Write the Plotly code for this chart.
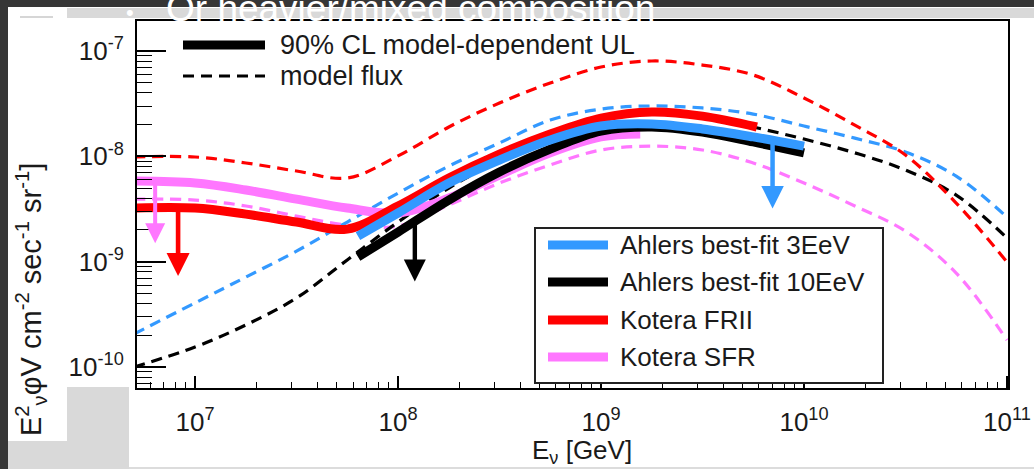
import numpy as np
import plotly.graph_objects as go

# ---------------- data ----------------
# energies (GeV) at which the model-flux curves were sampled
energy = [5.0e6, 1.0e7, 1.78e7, 3.16e7, 5.62e7, 1.0e8, 1.78e8, 3.16e8, 5.62e8,
          1.0e9, 1.78e9, 3.16e9, 5.62e9, 1.0e10, 1.78e10, 3.16e10, 5.62e10, 1.0e11]

# model fluxes (dashed), E^2 phi  [GeV cm^-2 s^-1 sr^-1]
ahlers3_model = [2.06e-10, 4.06e-10, 7.15e-10, 1.26e-9, 2.38e-9, 4.48e-9, 8.09e-9, 1.34e-8, 2.21e-8,
                 2.81e-8, 3.01e-8, 2.88e-8, 2.52e-8, 1.94e-8, 1.49e-8, 1.10e-8, 6.50e-9, 2.65e-9]
ahlers10_model = [1.00e-10, 1.55e-10, 2.51e-10, 4.52e-10, 1.04e-9, 2.38e-9, 5.00e-9, 9.23e-9, 1.56e-8,
                  2.31e-8, 2.64e-8, 2.41e-8, 1.90e-8, 1.46e-8, 1.08e-8, 7.41e-9, 4.29e-9, 1.68e-9]
kotera_frii_model = [9.86e-9, 9.86e-9, 8.65e-9, 7.26e-9, 6.23e-9, 1.01e-8, 1.90e-8, 3.21e-8, 4.97e-8,
                     7.05e-8, 8.04e-8, 7.36e-8, 5.92e-8, 3.58e-8, 1.98e-8, 1.03e-8, 3.60e-9, 9.93e-10]
kotera_sfr_model = [3.93e-9, 3.85e-9, 3.38e-9, 2.71e-9, 2.23e-9, 2.18e-9, 3.45e-9, 5.58e-9, 8.28e-9,
                    1.15e-8, 1.25e-8, 1.15e-8, 8.65e-9, 5.58e-9, 3.38e-9, 1.95e-9, 7.80e-10, 1.80e-10]

# 90% CL model-dependent upper limits (thick)
ahlers_ul_energy = [6.35e7, 1.0e8, 1.78e8, 3.16e8, 5.62e8, 1.0e9, 1.78e9, 3.16e9, 5.62e9, 1.0e10]
ahlers3_ul = [1.75e-9, 2.90e-9, 5.58e-9, 9.23e-9, 1.43e-8, 1.94e-8, 2.03e-8, 1.82e-8, 1.53e-8, 1.25e-8]
ahlers10_ul = [1.11e-9, 1.91e-9, 3.85e-9, 7.10e-9, 1.17e-8, 1.74e-8, 1.90e-8, 1.70e-8, 1.37e-8, 1.08e-8]
kotera_frii_ul_energy = [5.0e6, 1.0e7, 1.78e7, 3.16e7, 5.62e7, 1.0e8, 1.78e8, 3.16e8, 5.62e8,
                         1.0e9, 1.78e9, 3.16e9, 5.86e9]
kotera_frii_ul = [3.23e-9, 3.23e-9, 2.83e-9, 2.38e-9, 2.04e-9, 3.38e-9, 6.23e-9, 1.05e-8, 1.63e-8,
                  2.31e-8, 2.64e-8, 2.41e-8, 1.90e-8]
kotera_sfr_ul_energy = [5.0e6, 1.0e7, 1.78e7, 3.16e7, 5.62e7, 1.0e8, 1.78e8, 3.16e8, 5.62e8,
                        1.0e9, 1.56e9]
kotera_sfr_ul = [5.83e-9, 5.58e-9, 4.79e-9, 3.93e-9, 3.23e-9, 2.90e-9, 4.02e-9, 6.65e-9, 1.08e-8,
                 1.53e-8, 1.63e-8]

# downward arrows (energy, tip value)
arrow_series = ["Kotera SFR", "Kotera FRII", "Ahlers best-fit 10EeV", "Ahlers best-fit 3EeV"]
arrow_energy = [6.36e6, 8.25e6, 1.21e8, 7.0e9]
arrow_tip = [1.50e-9, 7.3e-10, 6.5e-10, 3.2e-9]

# axis ticks
x_tickvals = [1e7, 1e8, 1e9, 1e10, 1e11]
x_ticktext = ["10<sup>7</sup>", "10<sup>8</sup>", "10<sup>9</sup>", "10<sup>10</sup>", "10<sup>11</sup>"]
y_tickvals = [1e-10, 1e-9, 1e-8, 1e-7]
y_ticktext = ["10<sup>-10</sup>", "10<sup>-9</sup>", "10<sup>-8</sup>", "10<sup>-7</sup>"]

legend_box_labels = ["Ahlers best-fit 3EeV", "Ahlers best-fit 10EeV", "Kotera FRII", "Kotera SFR"]
legend_top_labels = ["90% CL model-dependent UL", "model flux"]

# ---------------- styling ----------------
BLUE = "#3399ff"
BLACK = "#000000"
RED = "#ff0000"
PINK = "#ff77ff"
colors = {"Ahlers best-fit 3EeV": BLUE, "Ahlers best-fit 10EeV": BLACK,
          "Kotera FRII": RED, "Kotera SFR": PINK}
FONT = "Liberation Sans, Arial, sans-serif"
TXT = "#1a1a1a"
W, H = 1034, 469
L, R, T, B = 137, 1008, 21, 388   # plot area in pixels


def X(px):
    return (px - L) / (R - L)


def Y(py):
    return (B - py) / (B - T)


fig = go.Figure()

DASH = "11px,7px"
for vals, name in [(kotera_sfr_model, "Kotera SFR"), (ahlers10_model, "Ahlers best-fit 10EeV"),
                   (ahlers3_model, "Ahlers best-fit 3EeV"), (kotera_frii_model, "Kotera FRII")]:
    fig.add_trace(go.Scatter(x=energy, y=vals, mode="lines", showlegend=False,
                             line=dict(color=colors[name], width=3.2, dash=DASH,
                                       shape="spline", smoothing=1.0)))

for xs, vals, name in [(kotera_sfr_ul_energy, kotera_sfr_ul, "Kotera SFR"),
                       (kotera_frii_ul_energy, kotera_frii_ul, "Kotera FRII"),
                       (ahlers_ul_energy, ahlers10_ul, "Ahlers best-fit 10EeV"),
                       (ahlers_ul_energy, ahlers3_ul, "Ahlers best-fit 3EeV")]:
    fig.add_trace(go.Scatter(x=xs, y=vals, mode="lines", showlegend=False,
                             line=dict(color=colors[name], width=9,
                                       shape="spline", smoothing=1.0)))

ul_lookup = {"Kotera SFR": (kotera_sfr_ul_energy, kotera_sfr_ul),
             "Kotera FRII": (kotera_frii_ul_energy, kotera_frii_ul),
             "Ahlers best-fit 10EeV": (ahlers_ul_energy, ahlers10_ul),
             "Ahlers best-fit 3EeV": (ahlers_ul_energy, ahlers3_ul)}
arrow_w = {"Kotera SFR": 4.0, "Kotera FRII": 4.6, "Ahlers best-fit 10EeV": 4.4,
           "Ahlers best-fit 3EeV": 4.5}

annotations = []
for name, e, tip in zip(arrow_series, arrow_energy, arrow_tip):
    xs, ys = ul_lookup[name]
    tail = np.interp(np.log10(e), np.log10(xs), np.log10(ys))
    annotations.append(dict(x=np.log10(e), y=np.log10(tip), ax=np.log10(e), ay=tail,
                            xref="x", yref="y", axref="x", ayref="y", text="",
                            showarrow=True, arrowhead=2, arrowsize=1,
                            arrowwidth=arrow_w[name], arrowcolor=colors[name], standoff=0))

shapes = []


def rect(x0, y0, x1, y1, color):
    shapes.append(dict(type="rect", xref="paper", yref="paper", x0=X(x0), x1=X(x1),
                       y0=Y(y1), y1=Y(y0), fillcolor=color, line=dict(width=0), layer="below"))


# slide background pieces around the chart
rect(0, 0, W, 7, "#363636")
rect(0, 0, 8, H, "#363636")
rect(67, 8, W, 18, "#d9d9d9")
rect(67, 387, 129, H, "#d9d9d9")
rect(8, 441, 129, H, "#d9d9d9")
rect(129, 467, W, H, "#dcdcdc")
shapes.append(dict(type="line", xref="paper", yref="paper", x0=X(20), x1=X(53), y0=Y(17), y1=Y(17),
                   line=dict(color="#c8c8c8", width=1.5)))

# top legend (no frame)
shapes.append(dict(type="line", xref="paper", yref="paper", x0=X(183), x1=X(265), y0=Y(45), y1=Y(45),
                   line=dict(color=BLACK, width=9)))
shapes.append(dict(type="line", xref="paper", yref="paper", x0=X(183), x1=X(265), y0=Y(76), y1=Y(76),
                   line=dict(color=BLACK, width=3.2, dash=DASH)))
for lab, py in zip(legend_top_labels, [45, 76]):
    annotations.append(dict(xref="paper", yref="paper", x=X(278), y=Y(py), text=lab,
                            xanchor="left", yanchor="middle", showarrow=False,
                            font=dict(family=FONT, size=27, color=TXT)))

# boxed legend
shapes.append(dict(type="rect", xref="paper", yref="paper", x0=X(535), x1=X(883), y0=Y(383), y1=Y(228),
                   fillcolor="white", line=dict(color="#222222", width=2), layer="above"))
for lab, py in zip(legend_box_labels, [245, 282, 320, 357]):
    shapes.append(dict(type="line", xref="paper", yref="paper", x0=X(548), x1=X(608), y0=Y(py), y1=Y(py),
                       line=dict(color=colors[lab], width=9), layer="above"))
    annotations.append(dict(xref="paper", yref="paper", x=X(618), y=Y(py), text=lab,
                            xanchor="left", yanchor="middle", showarrow=False,
                            font=dict(family=FONT, size=26, color=TXT)))

# axis titles
annotations.append(dict(xref="paper", yref="paper", x=X(582), y=Y(452),
                        text="E<sub>ν</sub> [GeV]", showarrow=False, xanchor="center", yanchor="middle",
                        font=dict(family=FONT, size=26, color=TXT)))
annotations.append(dict(xref="paper", yref="paper", x=X(31), y=Y(300), textangle=-90,
                        text="E<sup>2</sup><sub>ν</sub>φV cm<sup>-2</sup> sec<sup>-1</sup> sr<sup>-1</sup>]",
                        showarrow=False, xanchor="center", yanchor="middle",
                        font=dict(family=FONT, size=29, color=TXT)))

# slide text peeking above the chart
annotations.append(dict(xref="paper", yref="paper", x=X(130), y=Y(13), text="•", showarrow=False,
                        xanchor="center", yanchor="middle", font=dict(family=FONT, size=22, color="white")))
annotations.append(dict(xref="paper", yref="paper", x=X(164), y=Y(8), text="Or heavier/mixed composition",
                        showarrow=False, xanchor="left", yanchor="middle",
                        font=dict(family=FONT, size=37, color="white")))

minor_x = [k * 10.0 ** d for d in range(6, 11) for k in range(2, 10)]
minor_y = [k * 10.0 ** d for d in range(-11, -6) for k in range(2, 10)]

fig.update_layout(
    width=W, height=H, autosize=False,
    margin=dict(l=L, r=W - R, t=T, b=H - B, pad=0),
    paper_bgcolor="white", plot_bgcolor="white",
    showlegend=False,
    shapes=shapes, annotations=annotations,
    font=dict(family=FONT, size=26, color=TXT),
)
fig.update_xaxes(type="log", range=[6.714, 11.005], tickmode="array", automargin=False,
                 tickvals=x_tickvals, ticktext=x_ticktext, ticklabelstandoff=10,
                 showgrid=False, zeroline=False, showline=True, linecolor="black", linewidth=2,
                 mirror=True, ticks="inside", ticklen=12, tickwidth=1.5, tickcolor="black",
                 tickfont=dict(family=FONT, size=26, color=TXT),
                 minor=dict(tickmode="array", tickvals=minor_x, ticks="inside", ticklen=6,
                            tickwidth=1.2, tickcolor="black", showgrid=False))
fig.update_yaxes(type="log", range=[-10.199, -6.715], tickmode="array", automargin=False,
                 tickvals=y_tickvals, ticktext=y_ticktext, ticklabelstandoff=6,
                 showgrid=False, zeroline=False, showline=True, linecolor="black", linewidth=2,
                 mirror=True, ticks="inside", ticklen=29, tickwidth=1.5, tickcolor="black",
                 tickfont=dict(family=FONT, size=26, color=TXT),
                 minor=dict(tickmode="array", tickvals=minor_y, ticks="inside", ticklen=15,
                            tickwidth=1.2, tickcolor="black", showgrid=False))

fig.write_html("out.html")
